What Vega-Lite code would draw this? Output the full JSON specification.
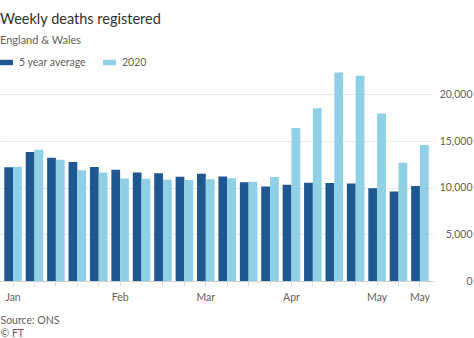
{
  "$schema": "https://vega.github.io/schema/vega-lite/v6.json",
  "width": 433,
  "height": 210,
  "padding": {"left": 0, "top": 11, "right": 2, "bottom": 0},
  "background": "white",
  "config": {
    "font": "Lato",
    "view": {"stroke": null}
  },
  "title": {"text": "Weekly deaths registered", "subtitle": "England & Wales", "anchor": "start", "fontSize": 14.5, "fontWeight": "normal", "color": "#33302e", "subtitleFontSize": 11, "subtitleColor": "#66605c", "subtitlePadding": 8, "offset": 9},
  "data": {
    "values": [
      {"week": 1, "series": "5 year average", "deaths": 12175},
      {"week": 2, "series": "5 year average", "deaths": 13822},
      {"week": 3, "series": "5 year average", "deaths": 13216},
      {"week": 4, "series": "5 year average", "deaths": 12760},
      {"week": 5, "series": "5 year average", "deaths": 12206},
      {"week": 6, "series": "5 year average", "deaths": 11925},
      {"week": 7, "series": "5 year average", "deaths": 11627},
      {"week": 8, "series": "5 year average", "deaths": 11548},
      {"week": 9, "series": "5 year average", "deaths": 11183},
      {"week": 10, "series": "5 year average", "deaths": 11498},
      {"week": 11, "series": "5 year average", "deaths": 11205},
      {"week": 12, "series": "5 year average", "deaths": 10573},
      {"week": 13, "series": "5 year average", "deaths": 10130},
      {"week": 14, "series": "5 year average", "deaths": 10305},
      {"week": 15, "series": "5 year average", "deaths": 10520},
      {"week": 16, "series": "5 year average", "deaths": 10497},
      {"week": 17, "series": "5 year average", "deaths": 10458},
      {"week": 18, "series": "5 year average", "deaths": 9941},
      {"week": 19, "series": "5 year average", "deaths": 9576},
      {"week": 20, "series": "5 year average", "deaths": 10188},
      {"week": 1, "series": "2020", "deaths": 12254},
      {"week": 2, "series": "2020", "deaths": 14058},
      {"week": 3, "series": "2020", "deaths": 12990},
      {"week": 4, "series": "2020", "deaths": 11856},
      {"week": 5, "series": "2020", "deaths": 11612},
      {"week": 6, "series": "2020", "deaths": 10986},
      {"week": 7, "series": "2020", "deaths": 10944},
      {"week": 8, "series": "2020", "deaths": 10841},
      {"week": 9, "series": "2020", "deaths": 10816},
      {"week": 10, "series": "2020", "deaths": 10895},
      {"week": 11, "series": "2020", "deaths": 11019},
      {"week": 12, "series": "2020", "deaths": 10645},
      {"week": 13, "series": "2020", "deaths": 11141},
      {"week": 14, "series": "2020", "deaths": 16387},
      {"week": 15, "series": "2020", "deaths": 18516},
      {"week": 16, "series": "2020", "deaths": 22351},
      {"week": 17, "series": "2020", "deaths": 21997},
      {"week": 18, "series": "2020", "deaths": 17953},
      {"week": 19, "series": "2020", "deaths": 12657},
      {"week": 20, "series": "2020", "deaths": 14573}
    ]
  },
  "mark": {"type": "bar"},
  "encoding": {
    "x": {
      "field": "week", "type": "ordinal",
      "scale": {"paddingInner": 0.18, "paddingOuter": 0.2},
      "axis": {
        "labelAngle": 0,
        "labelExpr": "datum.value == 1 ? 'Jan' : datum.value == 6 ? 'Feb' : datum.value == 10 ? 'Mar' : datum.value == 14 ? 'Apr' : (datum.value == 18 || datum.value == 20) ? 'May' : ''",
        "labelFontSize": 10.5, "labelColor": "#66605c", "labelPadding": 6,
        "domainColor": "#cfcfcf", "tickColor": "#dcdcdc", "tickSize": 5,
        "title": ["Source: ONS", "© FT"],
        "titleAnchor": "start", "titleAlign": "left", "titleFontSize": 10.5, "titleFontWeight": "normal", "titleColor": "#66605c", "titlePadding": 13, "titleLineHeight": 13
      }
    },
    "xOffset": {"field": "series", "type": "nominal", "sort": ["5 year average", "2020"], "scale": {"paddingInner": 0}},
    "y": {
      "field": "deaths", "type": "quantitative",
      "scale": {"domain": [0, 22500], "nice": false},
      "axis": {
        "orient": "right", "values": [0, 5000, 10000, 15000, 20000], "format": ",d",
        "title": null, "domain": false, "ticks": false,
        "gridColor": "#e8e8e8", "labelAlign": "right", "labelPadding": 39,
        "labelFontSize": 10.5, "labelColor": "#66605c"
      }
    },
    "color": {
      "field": "series", "type": "nominal",
      "sort": ["5 year average", "2020"],
      "scale": {"domain": ["5 year average", "2020"], "range": ["#1f5791", "#8fd0e6"]},
      "legend": {
        "orient": "top", "direction": "horizontal", "title": null,
        "symbolType": "M-1,-0.42H1V0.42H-1Z", "symbolSize": 169, "symbolStrokeWidth": 0,
        "labelFontSize": 10.5, "labelColor": "#66605c", "labelOffset": 6, "columnPadding": 16, "offset": 3
      }
    }
  }
}
